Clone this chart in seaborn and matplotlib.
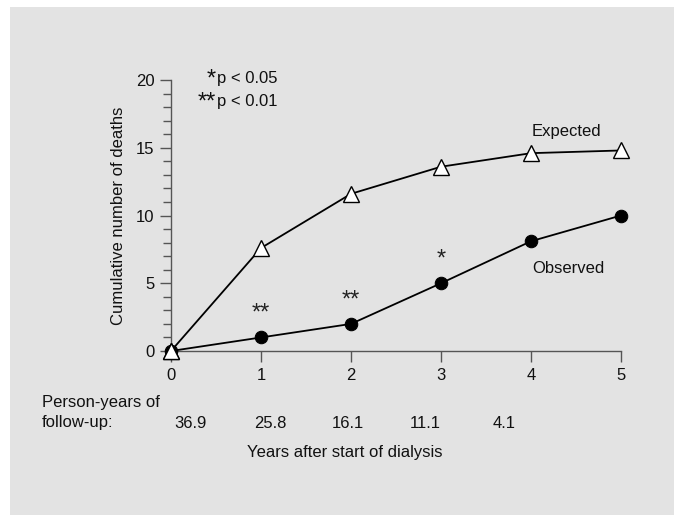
import matplotlib
matplotlib.use("Agg")
import matplotlib.pyplot as plt
import seaborn as sns
import pandas as pd
from matplotlib.patches import Rectangle
from matplotlib.ticker import MultipleLocator

sns.set_theme(style="ticks")
plt.rcParams["font.family"] = ["Liberation Sans", "DejaVu Sans"]

# Cumulative deaths by year after start of dialysis
years = [0, 1, 2, 3, 4, 5]
expected = [0, 7.6, 11.6, 13.6, 14.6, 14.8]
observed = [0, 1.0, 2.0, 5.0, 8.1, 10.0]
significance = ["", "**", "**", "*", "", ""]

# Person-years of follow-up in each yearly interval
person_years = ["36.9", "25.8", "16.1", "11.1", "4.1"]
py_label_x = [0.22, 1.10, 1.97, 2.83, 3.70]

bg = "#e3e3e3"
ink = "#111111"
fig = plt.figure(figsize=(6.74, 5.15), dpi=100, facecolor="white")
fig.patches.append(Rectangle((10 / 674, -0.05), 1.1, 1.05 - 7 / 515,
                             transform=fig.transFigure, facecolor=bg,
                             edgecolor="none", zorder=-10))

ax = fig.add_axes([171 / 674, 1 - 351 / 515, 450 / 674, 271 / 515])
ax.set_facecolor("none")

df = pd.DataFrame({"year": years, "expected": expected, "observed": observed})
sns.lineplot(data=df, x="year", y="expected", ax=ax, color="black", lw=1.3,
             marker="^", markersize=12, markerfacecolor="white",
             markeredgecolor="black", markeredgewidth=1.0, clip_on=False, zorder=3)
sns.lineplot(data=df, x="year", y="observed", ax=ax, color="black", lw=1.3,
             marker="o", markersize=9, markerfacecolor="black",
             markeredgecolor="black", clip_on=False, zorder=4)
# expected triangle at the origin sits on top of the observed dot
ax.plot([years[0]], [expected[0]], marker="^", markersize=12, color="white",
        markeredgecolor="black", markeredgewidth=1.0, clip_on=False, zorder=5)

for x, y, s in zip(years, observed, significance):
    if s:
        ax.annotate(s, (x, y), xytext=(0, 9), textcoords="offset points",
                    ha="center", va="bottom", fontsize=17, color="#222222")

ax.set_xlim(0, 5)
ax.set_ylim(0, 20)
ax.set_xticks(years)
ax.set_yticks([0, 5, 10, 15, 20])
ax.yaxis.set_minor_locator(MultipleLocator(1))
ax.tick_params(axis="both", which="major", length=8, width=1.0, color="#555555",
               labelsize=12, labelcolor=ink, pad=4)
ax.tick_params(axis="y", which="minor", length=5.5, width=1.0, color="#555555")
for side in ("top", "right"):
    ax.spines[side].set_visible(False)
for side in ("left", "bottom"):
    ax.spines[side].set_color("#555555")
    ax.spines[side].set_linewidth(1.0)

ax.set_xlabel("")
ax.set_ylabel("Cumulative number of deaths", fontsize=12, color=ink, labelpad=7)

# significance key
ax.text(0.50, 20.0, "*", fontsize=17, ha="right", va="center", color=ink, clip_on=False)
ax.text(0.51, 20.1, "p < 0.05", fontsize=12, ha="left", va="center", color=ink, clip_on=False)
ax.text(0.50, 18.35, "**", fontsize=17, ha="right", va="center", color=ink, clip_on=False)
ax.text(0.51, 18.45, "p < 0.01", fontsize=12, ha="left", va="center", color=ink, clip_on=False)

ax.text(4.39, 16.2, "Expected", fontsize=12, ha="center", va="center", color=ink)
ax.text(4.41, 6.1, "Observed", fontsize=12, ha="center", va="center", color=ink)

trans = ax.get_xaxis_transform()
fig.text(42 / 674, 1 - 403 / 515, "Person-years of", fontsize=12,
         ha="left", va="center", color=ink)
fig.text(42 / 674, 1 - 423 / 515, "follow-up:", fontsize=12,
         ha="left", va="center", color=ink)
for x, lab in zip(py_label_x, person_years):
    ax.text(x, -72 / 271, lab, transform=trans, fontsize=12, ha="center",
            va="center", color=ink, clip_on=False)
ax.text(1.93, -101 / 271, "Years after start of dialysis", transform=trans,
        fontsize=12, ha="center", va="center", color=ink, clip_on=False)

fig.savefig("out.png", dpi=100, facecolor="white")
